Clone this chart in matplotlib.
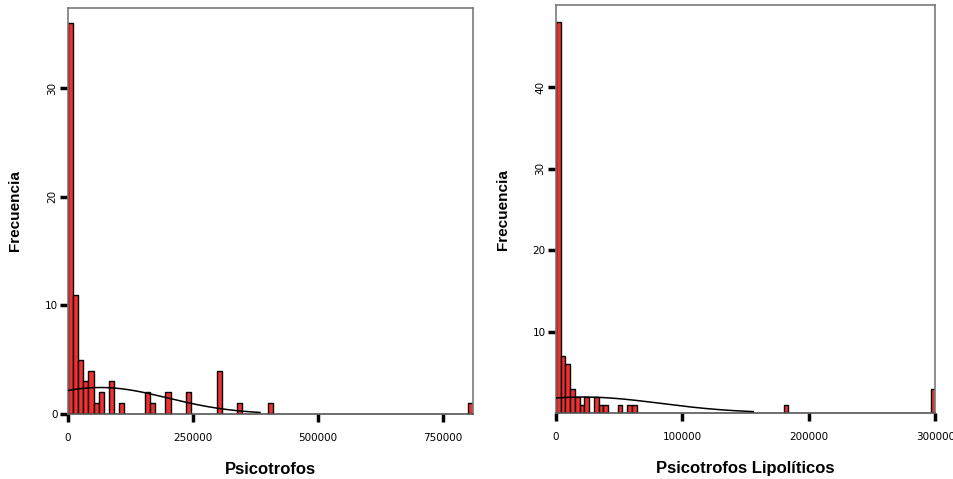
import numpy as np
import matplotlib
matplotlib.use("Agg")
import matplotlib.pyplot as plt

# ---- data ----
psico_bin_width = 10250
psico_bin_index = [0, 1, 2, 3, 4, 5, 6, 8, 10, 15, 16, 19, 23, 29, 33, 39, 78]
psico_freq      = [36, 11, 5, 3, 4, 1, 2, 3, 1, 2, 1, 2, 2, 4, 1, 1, 1]
psico_mean, psico_sd, psico_curve_end = 65000, 134000, 384000
psico_xticks = [0, 250000, 500000, 750000]
psico_yticks = [0, 10, 20, 30]

lipo_bin_width = 3750
lipo_bin_index = [0, 1, 2, 3, 4, 5, 6, 8, 9, 10, 13, 15, 16, 48, 79]
lipo_freq      = [48, 7, 6, 3, 2, 1, 2, 2, 1, 1, 1, 1, 1, 1, 3]
lipo_mean, lipo_sd, lipo_curve_end = 21400, 61000, 156000
lipo_xticks = [0, 100000, 200000, 300000]
lipo_yticks = [10, 20, 30, 40]

BAR = "#F23030"
SPINE = "#7a7a7a"

fig = plt.figure(figsize=(9.54, 4.79), dpi=100)
ax1 = fig.add_axes([68/954, 1-414/479, (473-68)/954, (414-8)/479])
ax2 = fig.add_axes([556/954, 1-413/479, (935.3-556)/954, (413-5.3)/479])


def draw(ax, idx, freq, width, mean, sd, cend, xlim, ylim, xticks, yticks,
         rot_labels, xlabel):
    idx = np.asarray(idx)
    freq = np.asarray(freq)
    ax.bar(idx * width, freq, width=width, align="edge", color=BAR,
           edgecolor="black", linewidth=1.0, zorder=2)
    n = freq.sum()
    xs = np.linspace(0, cend, 400)
    ys = n * width / (sd * np.sqrt(2 * np.pi)) * np.exp(-0.5 * ((xs - mean) / sd) ** 2)
    ax.plot(xs, ys, color="black", linewidth=1.1, zorder=3)
    ax.set_xlim(*xlim)
    ax.set_ylim(*ylim)
    ax.set_xticks(xticks, [str(t) for t in xticks])
    ax.set_yticks(yticks, [str(t) for t in yticks])
    for lab in ax.get_yticklabels():
        if lab.get_text() in rot_labels:
            lab.set_rotation(90)
            lab.set_va("center")
    for s in ax.spines.values():
        s.set_color(SPINE)
        s.set_linewidth(1.2)
    ax.spines["bottom"].set_color("#555555")
    ax.tick_params(direction="out", length=5.5, width=2.5, color="black",
                   labelsize=7.5, pad=2)
    ax.tick_params(axis="x", pad=8)
    ax.set_xlabel(xlabel, family="Liberation Sans", weight="bold",
                  fontsize=12, labelpad=14)
    ax.set_ylabel("Frecuencia", family="Liberation Sans", weight="bold",
                  fontsize=11, labelpad=16)


draw(ax1, psico_bin_index, psico_freq, psico_bin_width, psico_mean, psico_sd,
     psico_curve_end, (0, 810000), (0, 37.4), psico_xticks, psico_yticks,
     ("30", "20"), "Psicotrofos")
draw(ax2, lipo_bin_index, lipo_freq, lipo_bin_width, lipo_mean, lipo_sd,
     lipo_curve_end, (0, 300000), (0, 50.1), lipo_xticks, lipo_yticks,
     ("40", "30"), "Psicotrofos Lipolíticos")

fig.savefig("out.png", dpi=100)
